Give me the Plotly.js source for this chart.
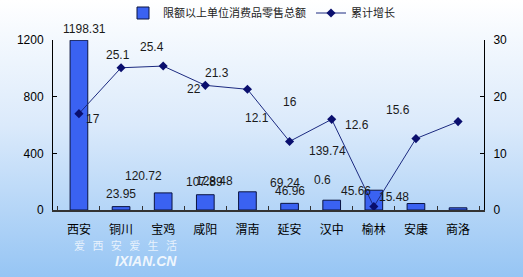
<!DOCTYPE html>
<html>
<head>
<meta charset="utf-8">
<script src="https://cdn.plot.ly/plotly-3.0.1.min.js"></script>
<style>
html,body{margin:0;padding:0;}
#chart{width:523px;height:277px;background:linear-gradient(to bottom,#ffffff 0%,#dbeafb 45%,#96c5f4 100%);}
</style>
</head>
<body>
<div id="chart"></div>
<script>
const categories = ["西安","铜川","宝鸡","咸阳","渭南","延安","汉中","榆林","安康","商洛"];
const retailTotal = [1198.31, 23.95, 120.72, 107.89, 128.48, 46.96, 69.24, 139.74, 45.66, 15.48];
const growth = [17, 25.1, 25.4, 22, 21.3, 12.1, 16, 0.6, 12.6, 15.6];
const barName = "限额以上单位消费品零售总额";
const lineName = "累计增长";
const watermarkChars = ["爱","西","安","爱","生","活"];
const watermarkSite = "IXIAN.CN";

// label offsets (pixels) imitating the source picture's label placement
const barLabelDx = [5.5, 0, -20, -1, -33, 0, -47, -46, -60, -64.5];
const barLabelDy = [11, 13, 17, 13, 11, 12, 17.5, 39, 12.5, 11];
const lineLabelDx = [14, -3, -11, -11, -30, -32.5, -42, -51, -59, -60.5];
const lineLabelDy = [-5, 13, 19, -4, 16, 23, 17, 26.6, 13.6, 12];

const labelFont = {family:"Arial, Liberation Sans, sans-serif", size:12, color:"#1a1a1a"};
const annotations = [];
categories.forEach((c,i)=>{
  annotations.push({x:c, y:retailTotal[i], xref:"x", yref:"y", text:String(retailTotal[i]),
    showarrow:false, xshift:barLabelDx[i], yshift:barLabelDy[i], font:labelFont});
  annotations.push({x:c, y:growth[i], xref:"x", yref:"y2", text:String(growth[i]),
    showarrow:false, xshift:lineLabelDx[i], yshift:lineLabelDy[i], font:labelFont});
});
// watermark texts
annotations.push({xref:"paper", yref:"paper", x:(125-53)/431, y:-(245-210)/170, xanchor:"center", yanchor:"middle",
  text:watermarkChars.join("\u00A0\u00A0\u00A0"),
  showarrow:false, font:{family:"Noto Sans CJK SC", size:11, color:"rgba(255,255,255,0.75)"}});
annotations.push({xref:"paper", yref:"paper", x:(146-53)/431, y:-(261-210)/170, xanchor:"center", yanchor:"middle",
  text:"<b><i>" + watermarkSite + "</i></b>",
  showarrow:false, font:{family:"Arial, Liberation Sans, sans-serif", size:14, color:"rgba(255,255,255,0.85)"}});

const traces = [
  {type:"bar", name:barName, x:categories, y:retailTotal, yaxis:"y",
   marker:{color:"rgb(58,98,242)", line:{color:"#0a1440", width:1}}, width:0.42},
  {type:"scatter", mode:"lines+markers", name:lineName, x:categories, y:growth, yaxis:"y2",
   line:{color:"#1c2a80", width:1}, marker:{symbol:"diamond", size:7, color:"#0a0f6e"}}
];

const layout = {
  width:523, height:277,
  paper_bgcolor:"rgba(0,0,0,0)", plot_bgcolor:"rgba(0,0,0,0)",
  margin:{l:53, r:39, t:40, b:67, autoexpand:false},
  font:{family:"Arial, Liberation Sans, Noto Sans CJK SC, sans-serif", size:12, color:"#000"},
  showlegend:true,
  legend:{orientation:"h", x:0.5, xanchor:"center", xref:"container", y:1-13/277, yanchor:"middle", yref:"container",
    font:{family:"Noto Sans CJK SC, sans-serif", size:11, color:"#222"}, bgcolor:"rgba(0,0,0,0)"},
  xaxis:{type:"category", showline:true, linecolor:"#333", linewidth:1.5, ticks:"inside", tickson:"boundaries",
    ticklen:4, tickcolor:"#333", showgrid:false, zeroline:false, ticklabelstandoff:8, automargin:false,
    tickfont:{family:"Noto Sans CJK SC, sans-serif", size:12, color:"#000"}},
  yaxis:{range:[0,1200], tickvals:[0,400,800,1200], showline:true, linecolor:"#000", linewidth:1,
    ticks:"inside", ticklen:4, tickcolor:"#000", showgrid:false, zeroline:false, ticklabelstandoff:6, automargin:false,
    tickfont:{size:12, color:"#000"}},
  yaxis2:{range:[0,30], tickvals:[0,10,20,30], overlaying:"y", side:"right", showline:true, linecolor:"#000",
    linewidth:1, ticks:"inside", ticklen:4, tickcolor:"#000", showgrid:false, zeroline:false, ticklabelstandoff:6, automargin:false,
    tickfont:{size:12, color:"#000"}},
  annotations:annotations
};
Plotly.newPlot("chart", traces, layout, {displayModeBar:false, staticPlot:true});
</script>
</body>
</html>
